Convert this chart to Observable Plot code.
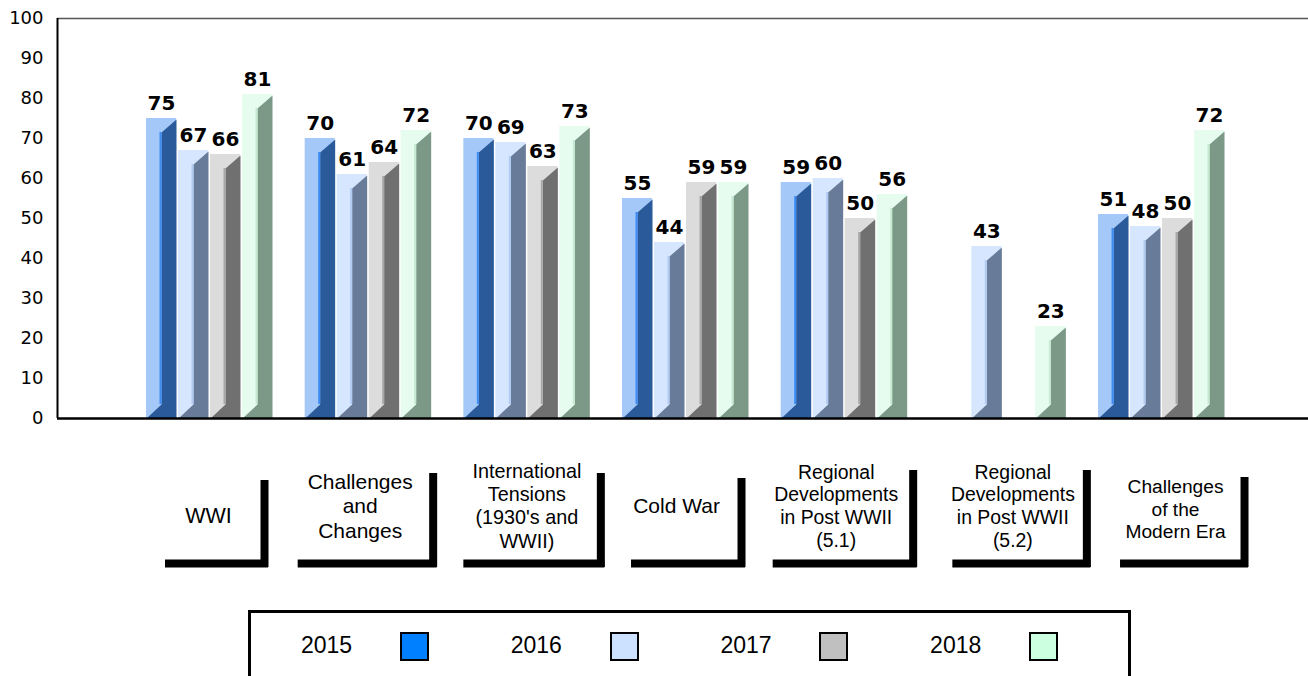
<!DOCTYPE html>
<html>
<head>
<meta charset="utf-8">
<script src="https://cdn.jsdelivr.net/npm/d3@7"></script>
<script src="https://cdn.jsdelivr.net/npm/@observablehq/plot@0.6"></script>
<style>
  html, body { margin: 0; padding: 0; background: #fff; width: 1308px; height: 676px; overflow: hidden; }
  #chart { position: absolute; left: 0; top: 0; }
  #legend { position: absolute; left: 248px; top: 610px; width: 883px; height: 90px; border: 3px solid #000; box-sizing: border-box; font-family: "Liberation Sans", Arial, sans-serif; font-size: 23px; color: #000; }
  #legend .lab { position: absolute; top: 18px; height: 29px; line-height: 29px; white-space: nowrap; }
  #legend .sw { position: absolute; top: 19px; width: 29px; height: 29px; box-sizing: border-box; border: 2px solid #000; }
</style>
</head>
<body>
<div id="chart"></div>
<div id="legend"></div>
<script>
// ---------------- DATA ----------------
const categories = [
  "WWI",
  "Challenges\nand\nChanges",
  "International\nTensions\n(1930's and\nWWII)",
  "Cold War",
  "Regional\nDevelopments\nin Post WWII\n(5.1)",
  "Regional\nDevelopments\nin Post WWII\n(5.2)",
  "Challenges\nof the\nModern Era"
];
const years = ["2015", "2016", "2017", "2018"];
const values2015 = [75, 70, 70, 55, 59, null, 51];
const values2016 = [67, 61, 69, 44, 60, 43, 48];
const values2017 = [66, 64, 63, 59, 50, null, 50];
const values2018 = [81, 72, 73, 59, 56, 23, 72];
const yTicks = [0, 10, 20, 30, 40, 50, 60, 70, 80, 90, 100];

// ---------------- STYLE / LAYOUT ----------------
const frontColors = ["#a4c9f9", "#d5e6fe", "#dcdcdc", "#e5fcee"];
const sideColors  = ["#2a5a9a", "#687b98", "#707070", "#7b9986"];
const edgeColors  = ["#3c8cf4", "#b0caf2", "#a8a8a8", "#c6e9d2"];
const swatchColors = ["#0080ff", "#cce0ff", "#c0c0c0", "#ccffe0"];

const W = 1308, H = 605, LEFT = 57, TOP = 18, BASE = 418;
const STEP = 158.67, X0 = 209;               // px between category groups, first group centre
const PPU = (BASE - TOP) / 100;              // px per y unit
const ux = p => p / STEP;                    // px -> x units
const uy = p => p / PPU;                     // px -> y units
const yAt = py => (BASE - py) / PPU;         // page px -> y value
const xDomain = [(LEFT - X0) / STEP, (W - X0) / STEP];

// category label layout (px)
const labelShift = [-1, -8, 0, -9, -8, 10, 14];
const labelMidY  = [514, 505, 505, 505, 505, 505, 508];
const labelSize  = [21.5, 21, 19.8, 21, 19.4, 19.4, 19.2];
const boxL   = [-44, -70, -63, -54, -71, -50, -41];
const boxR   = [59, 69, 78, 60, 73, 88, 87];
const boxTop = [480, 473, 473, 478, 470, 470, 477];

// ---------------- TABLES ----------------
const series = [values2015, values2016, values2017, values2018];
const rows = [];
categories.forEach((c, i) => years.forEach((yr, j) => {
  const v = series[j][i];
  if (v != null) rows.push({cat: c, i, year: yr, j, v, cx: i + ux((j - 1.5) * 32)});
}));
const HW = ux(15), D = uy(14);
const polys = rows.flatMap((d, k) => [
  [d.cx, d.v - D], [d.cx + HW, d.v - uy(1)], [d.cx + HW, 0], [d.cx - HW, 0], [d.cx, D]
].map(([x, y]) => ({id: k, j: d.j, x, y})));
const cats = categories.map((c, i) => ({c, i}));

// ---------------- MARKS ----------------
const marks = [
  Plot.ruleY([100], {stroke: "#555", strokeWidth: 1.5})
];
years.forEach((yr, j) => {
  const R = rows.filter(d => d.j === j);
  marks.push(Plot.rect(R, {x1: d => d.cx - HW, x2: d => d.cx + HW, y1: 0, y2: "v", fill: frontColors[j]}));
  marks.push(Plot.line(polys.filter(p => p.j === j), {x: "x", y: "y", z: "id", fill: sideColors[j], stroke: "none", curve: "linear-closed"}));
  marks.push(Plot.ruleX(R, {x: "cx", y1: D, y2: d => d.v - D, stroke: edgeColors[j], strokeWidth: 2, dx: -1}));
});
marks.push(
  Plot.ruleY([0], {stroke: "#000", strokeWidth: 2.5}),
  Plot.ruleX([xDomain[0]], {stroke: "#000", strokeWidth: 2}),
  Plot.text(rows, {x: "cx", y: "v", text: d => String(d.v), dy: -9, lineAnchor: "bottom",
    fontWeight: "bold", fontSize: 20, fontFamily: "DejaVu Sans", fill: "#000"}),
  Plot.text(cats, {x: d => d.i + ux(labelShift[d.i]), y: d => yAt(labelMidY[d.i]), text: "c",
    fontSize: d => labelSize[d.i], lineHeight: 1.17, lineAnchor: "middle",
    fontFamily: "Liberation Sans", fill: "#000"}),
  Plot.ruleY(cats, {y: yAt(563), x1: d => d.i + ux(boxL[d.i]), x2: d => d.i + ux(boxR[d.i]), stroke: "#000", strokeWidth: 8}),
  Plot.ruleX(cats, {x: d => d.i + ux(boxR[d.i] - 4), y1: d => yAt(boxTop[d.i]), y2: yAt(567), stroke: "#000", strokeWidth: 8})
);

const chart = Plot.plot({
  width: W, height: H,
  marginLeft: LEFT, marginRight: 0, marginTop: TOP, marginBottom: H - BASE,
  x: {domain: xDomain, axis: null},
  y: {domain: [0, 100], ticks: yTicks, tickSize: 0, tickPadding: 14, label: null},
  style: {fontFamily: "DejaVu Sans", fontSize: "18px", color: "#000", background: "#fff", overflow: "visible"},
  marks
});
document.getElementById("chart").appendChild(chart);

// ---------------- LEGEND ----------------
const legend = document.getElementById("legend");
years.forEach((yr, j) => {
  const lab = document.createElement("div");
  lab.className = "lab";
  lab.textContent = yr;
  lab.style.left = (50 + j * 209.7) + "px";
  legend.appendChild(lab);
  const sw = document.createElement("div");
  sw.className = "sw";
  sw.style.left = (149 + j * 209.7) + "px";
  sw.style.background = swatchColors[j];
  legend.appendChild(sw);
});
</script>
</body>
</html>
